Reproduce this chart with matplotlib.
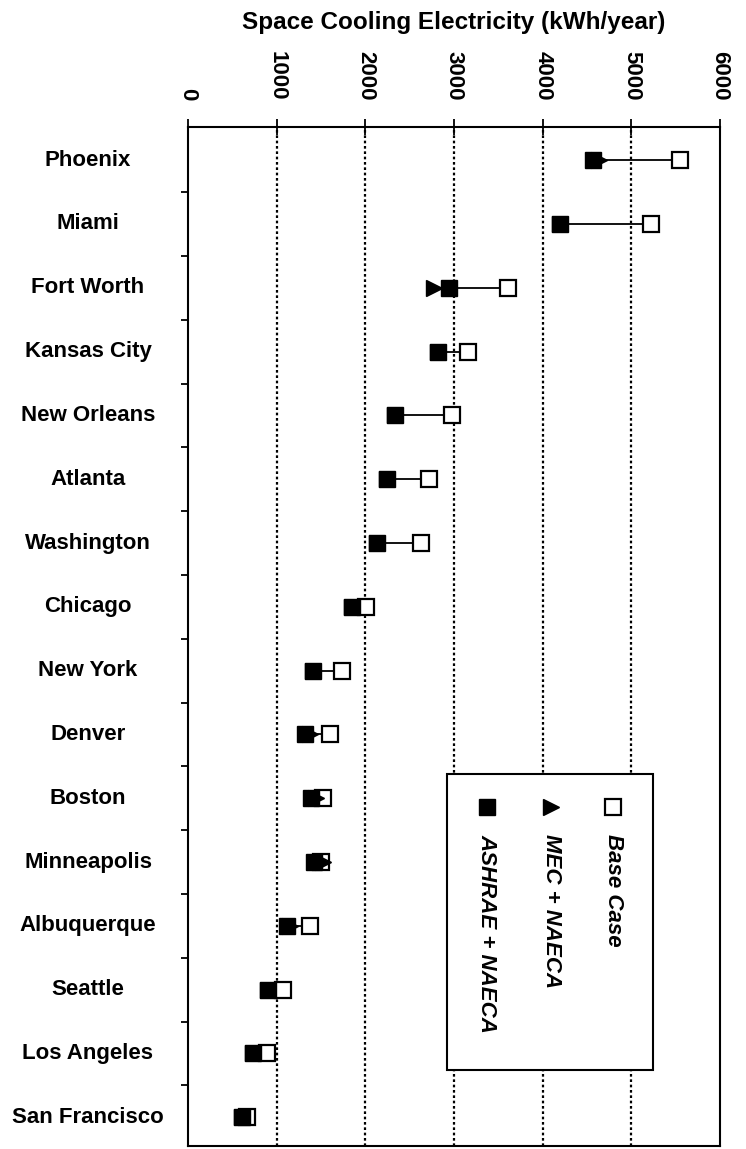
import matplotlib
matplotlib.use("Agg")
import matplotlib.pyplot as plt
from matplotlib.patches import Rectangle
from matplotlib.lines import Line2D
import matplotlib.transforms as mtransforms
import numpy as np

plt.rcParams['font.family'] = ['Liberation Sans', 'DejaVu Sans']

cities = ["Phoenix", "Miami", "Fort Worth", "Kansas City", "New Orleans", "Atlanta",
          "Washington", "Chicago", "New York", "Denver", "Boston", "Minneapolis",
          "Albuquerque", "Seattle", "Los Angeles", "San Francisco"]
base_case = [5548, 5220, 3605, 3153, 2983, 2723, 2633, 2011, 1740, 1605, 1525, 1495,
             1379, 1073, 893, 667]
mec_naeca = [4640, 4192, 2780, 2814, 2339, 2249, 2136, 1853, 1412, 1380, 1445, 1520,
             1150, 904, 734, 610]
ashrae_naeca = [4565, 4192, 2938, 2814, 2339, 2249, 2136, 1853, 1412, 1322, 1390, 1420,
                1119, 904, 734, 610]
xticks = [0, 1000, 2000, 3000, 4000, 5000, 6000]
title = "Space Cooling Electricity (kWh/year)"
legend_labels = ["Base Case", "MEC + NAECA", "ASHRAE + NAECA"]

fig = plt.figure(figsize=(7.46, 11.49), dpi=100)
W, H = 746, 1149
left, right, top, bottom = 188, 720, 127, 1146
ax = fig.add_axes([left / W, 1 - bottom / H, (right - left) / W, (bottom - top) / H])

y = np.arange(len(cities))
lo = np.minimum(np.minimum(base_case, mec_naeca), ashrae_naeca)
hi = np.maximum(np.maximum(base_case, mec_naeca), ashrae_naeca)
ax.hlines(y, lo, hi, color='black', lw=1.3, zorder=2)
ax.plot(base_case, y, 's', ms=12, mfc='white', mec='black', mew=1.6, ls='none', zorder=3)
ax.plot(mec_naeca, y, '>', ms=12, mfc='black', mec='black', ls='none', zorder=4)
ax.plot(ashrae_naeca, y, 's', ms=11, mfc='black', mec='black', ls='none', zorder=5)

ax.set_xlim(0, 6000)
ax.set_ylim(len(cities) - 0.55, -0.52)
ax.xaxis.tick_top()
ax.set_xticks(xticks)
ax.set_xticklabels([str(t) for t in xticks], rotation=-90, fontsize=16, fontweight='bold')
ax.tick_params(axis='x', direction='inout', length=12, width=1.3, pad=13)
for gx in xticks[1:-1]:
    ax.axvline(gx, color='black', ls=(0, (1.2, 1.2)), lw=1.6, zorder=1)

ax.set_yticks(np.arange(len(cities) - 1) + 0.5)
ax.set_yticklabels([])
ax.tick_params(axis='y', direction='out', length=5, width=1.3)
trans = mtransforms.blended_transform_factory(ax.transAxes, ax.transData)
for i, c in enumerate(cities):
    ax.text((88 - left) / (right - left), i, c, transform=trans, ha='center', va='center',
            fontsize=16, fontweight='bold')

for s in ax.spines.values():
    s.set_linewidth(1.5)

fig.text((left + right) / 2 / W, 1 - 22 / H, title, ha='center', va='center',
         fontsize=17.5, fontweight='bold')

# legend box drawn rotated
aw, ah = right - left, bottom - top
bx0, bx1, by0, by1 = 447, 653, 774, 1070
ax.add_patch(Rectangle(((bx0 - left) / aw, 1 - (by1 - top) / ah), (bx1 - bx0) / aw,
                       (by1 - by0) / ah, transform=ax.transAxes, facecolor='white',
                       edgecolor='black', lw=1.5, zorder=6))
leg_x = [613, 551, 487]
leg_m = [dict(marker='s', ms=12, mfc='white', mec='black', mew=1.6),
         dict(marker='>', ms=12, mfc='black', mec='black'),
         dict(marker='s', ms=11, mfc='black', mec='black')]
for lx, lab, m in zip(leg_x, legend_labels, leg_m):
    xa = (lx - left) / aw
    ax.add_line(Line2D([xa], [1 - (807 - top) / ah], transform=ax.transAxes, ls='none',
                       zorder=7, **m))
    ax.text(xa, 1 - (834 - top) / ah, lab, transform=ax.transAxes, rotation=-90,
            ha='center', va='top', fontsize=16, fontweight='bold', fontstyle='italic',
            zorder=7)

fig.savefig("out.png", dpi=100)
